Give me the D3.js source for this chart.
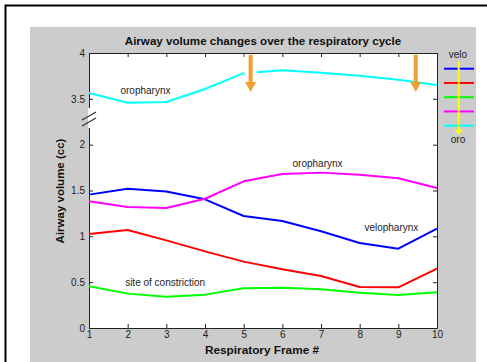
<!DOCTYPE html>
<html>
<head>
<meta charset="utf-8">
<script src="https://cdn.jsdelivr.net/npm/d3@7"></script>
<style>
  html, body { margin: 0; padding: 0; background: #fff; }
  svg { display: block; font-family: "Liberation Sans", Arial, sans-serif; }
</style>
</head>
<body>
<svg id="chart" width="487" height="362"></svg>
<script>
// data
const frames = [1, 2, 3, 4, 5, 6, 7, 8, 9, 10];
const veloBlue = [1.455, 1.52, 1.49, 1.404, 1.222, 1.167, 1.055, 0.927, 0.865, 1.084];
const midRed = [1.025, 1.069, 0.956, 0.836, 0.724, 0.64, 0.567, 0.447, 0.444, 0.647];
const constrictionGreen = [0.455, 0.375, 0.342, 0.364, 0.433, 0.44, 0.422, 0.385, 0.36, 0.389];
const oroMagenta = [1.382, 1.32, 1.31, 1.41, 1.6, 1.68, 1.695, 1.673, 1.633, 1.527];
const oroCyan = [3.564, 3.458, 3.465, 3.607, 3.78, 3.811, 3.785, 3.753, 3.709, 3.651];

const yTickValues = [0, 0.5, 1, 1.5, 2, 3.5, 4];
const yTickLabels = ["0", "0.5", "1", "1.5", "2", "3.5", "4"];
const breakShift = 1; // values above the break are drawn 1 cc lower

const series = [
  { name: "velo", values: veloBlue, color: "#0000ff" },
  { name: "red", values: midRed, color: "#ff0000" },
  { name: "green", values: constrictionGreen, color: "#00ff00" },
  { name: "magenta", values: oroMagenta, color: "#ff00ff" },
  { name: "oro", values: oroCyan, color: "#00ffff" }
];

const notes = [
  { text: "oropharynx", frame: 2.46, value: 3.59 },
  { text: "oropharynx", frame: 6.91, value: 1.8 },
  { text: "velopharynx", frame: 8.82, value: 1.1 },
  { text: "site of constriction", frame: 2.97, value: 0.5 }
];
const arrowFrames = [5.18, 9.45];

const svg = d3.select("#chart");

// figure frame and grey background
svg.append("rect").attr("x", 5.5).attr("y", 5.5).attr("width", 500).attr("height", 400)
  .attr("fill", "#fff").attr("stroke", "#000").attr("stroke-width", 2);
svg.append("rect").attr("x", 30).attr("y", 27).attr("width", 446).attr("height", 340)
  .attr("fill", "#cccccc");

const pLeft = 89, pRight = 437, pTop = 53, pBottom = 328;

const x = d3.scaleLinear().domain([1, 10]).range([pLeft, pRight]);
const y = d3.scaleLinear().domain([0, 3]).range([pBottom, pTop]);
const yv = v => v > 2.75 ? y(v - breakShift) : y(v);

svg.append("rect").attr("x", pLeft).attr("y", pTop)
  .attr("width", pRight - pLeft).attr("height", pBottom - pTop).attr("fill", "#fff");

const axisColor = "#222";
const styleAxis = g => {
  g.selectAll("path, line").attr("stroke", axisColor);
  g.selectAll("text").attr("fill", "#222").attr("font-size", "10px")
    .attr("font-family", "Liberation Sans, Arial, sans-serif");
};

const yTickPos = yTickValues.map(v => v > 2.75 ? v - breakShift : v);

svg.append("g").attr("transform", `translate(0,${pBottom})`)
  .call(d3.axisBottom(x).tickValues(frames).tickFormat(d3.format("d"))
    .tickSizeInner(-4).tickSizeOuter(0).tickPadding(3))
  .call(styleAxis);
svg.append("g").attr("transform", `translate(0,${pTop})`)
  .call(d3.axisTop(x).tickValues(frames).tickFormat("").tickSizeInner(-4).tickSizeOuter(0))
  .call(styleAxis);
svg.append("g").attr("transform", `translate(${pLeft},0)`)
  .call(d3.axisLeft(y).tickValues(yTickPos)
    .tickFormat((d, i) => yTickLabels[i]).tickSizeInner(-4).tickSizeOuter(0).tickPadding(4))
  .call(styleAxis);
svg.append("g").attr("transform", `translate(${pRight},0)`)
  .call(d3.axisRight(y).tickValues(yTickPos)
    .tickFormat("").tickSizeInner(-4).tickSizeOuter(0))
  .call(styleAxis);

// axis break mark
const by = y(2.28);
svg.append("rect").attr("x", pLeft - 1).attr("y", by - 11).attr("width", 2).attr("height", 20)
  .attr("fill", "#fff");
[-3, 3].forEach(o => {
  svg.append("line")
    .attr("x1", pLeft - 7).attr("y1", by + o + 4)
    .attr("x2", pLeft + 7).attr("y2", by + o - 4)
    .attr("stroke", "#333").attr("stroke-width", 1.2);
});

// series lines
const line = d3.line().x((d, i) => x(frames[i])).y(d => yv(d));
svg.append("g").selectAll("path").data(series).join("path")
  .attr("d", d => line(d.values))
  .attr("fill", "none").attr("stroke", d => d.color).attr("stroke-width", 2)
  .attr("stroke-linejoin", "round");

// labels in the plot
svg.append("g").selectAll("text").data(notes).join("text")
  .attr("x", d => x(d.frame)).attr("y", d => yv(d.value)).attr("dy", "0.35em")
  .attr("text-anchor", "middle").attr("font-size", "10px").attr("fill", "#222")
  .text(d => d.text);

// orange arrows
const arrowColor = "#f0a030";
arrowFrames.forEach((f, i) => {
  const ax = x(f), y0 = yv(3.98), y1 = yv(3.575);
  if (i === 0) {
    svg.append("rect").attr("x", ax - 6).attr("y", y0).attr("width", 12).attr("height", y1 - y0)
      .attr("fill", "#fff");
  }
  svg.append("line").attr("x1", ax).attr("x2", ax).attr("y1", y0).attr("y2", y1 - 9)
    .attr("stroke", arrowColor).attr("stroke-width", 4);
  svg.append("path")
    .attr("d", `M${ax - 5.5},${y1 - 10}L${ax + 5.5},${y1 - 10}L${ax},${y1}Z`)
    .attr("fill", arrowColor);
});

// title and axis labels
svg.append("text").attr("x", (pLeft + pRight) / 2).attr("y", 45)
  .attr("text-anchor", "middle").attr("font-size", "11.6px").attr("font-weight", "bold")
  .attr("fill", "#111").text("Airway volume changes over the respiratory cycle");
svg.append("text").attr("x", (pLeft + pRight) / 2 - 1).attr("y", 354)
  .attr("text-anchor", "middle").attr("font-size", "11.8px").attr("font-weight", "bold")
  .attr("fill", "#111").text("Respiratory Frame #");
svg.append("text").attr("transform", `translate(64,191) rotate(-90)`)
  .attr("text-anchor", "middle").attr("font-size", "11.5px").attr("font-weight", "bold")
  .attr("fill", "#111").text("Airway volume (cc)");

// legend on the right
const legY = d3.scalePoint().domain(series.map(s => s.name)).range([68.7, 125.7]);
svg.append("g").selectAll("line").data(series).join("line")
  .attr("x1", 444).attr("x2", 474)
  .attr("y1", d => legY(d.name)).attr("y2", d => legY(d.name))
  .attr("stroke", d => d.color).attr("stroke-width", 2);
svg.append("line").attr("x1", 458.7).attr("x2", 458.7).attr("y1", 62).attr("y2", 133)
  .attr("stroke", "#ffff00").attr("stroke-width", 2);
svg.append("path").attr("d", "M455,129.5L458.7,133.5L462.4,129.5")
  .attr("fill", "none").attr("stroke", "#ffff00").attr("stroke-width", 1.5);
svg.append("text").attr("x", 458).attr("y", 54).attr("dy", "0.35em")
  .attr("text-anchor", "middle").attr("font-size", "10px").attr("fill", "#222").text("velo");
svg.append("text").attr("x", 458).attr("y", 139).attr("dy", "0.35em")
  .attr("text-anchor", "middle").attr("font-size", "10px").attr("fill", "#222").text("oro");
</script>
</body>
</html>
